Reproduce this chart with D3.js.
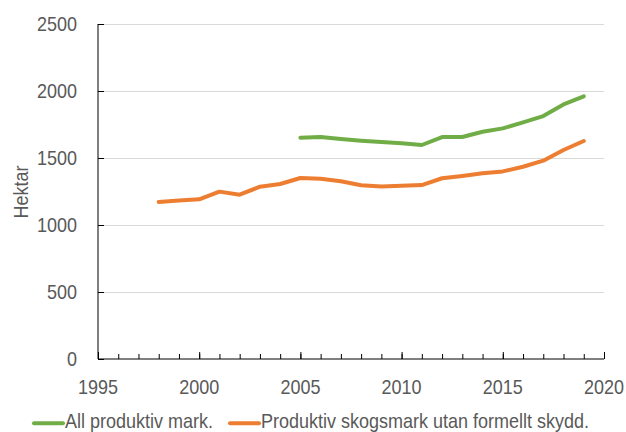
<!DOCTYPE html>
<html><head><meta charset="utf-8">
<script src="https://cdn.jsdelivr.net/npm/d3@7/dist/d3.min.js"></script>
<style>body{margin:0;background:#fff}svg{display:block}</style>
</head><body>
<svg id="c" width="626" height="432"></svg>
<script>
const yearsAll = [2005,2006,2007,2008,2009,2010,2011,2012,2013,2014,2015,2016,2017,2018,2019];
const valuesAll = [1652,1657,1642,1629,1619,1610,1597,1656,1657,1696,1721,1766,1813,1900,1960];
const yearsSkog = [1998,1999,2000,2001,2002,2003,2004,2005,2006,2007,2008,2009,2010,2011,2012,2013,2014,2015,2016,2017,2018,2019];
const valuesSkog = [1172,1182,1192,1249,1226,1286,1306,1351,1345,1326,1296,1288,1293,1298,1349,1366,1386,1400,1435,1480,1560,1627];
const xTicks = [1995,2000,2005,2010,2015,2020];
const yTicks = [0,500,1000,1500,2000,2500];
const seriesNames = ["All produktiv mark.","Produktiv skogsmark utan formellt skydd."];
const colors = ["#70AD47","#ED7D31"];

const svg = d3.select("#c");
const font = "'Liberation Sans', Arial, sans-serif";
const FS = 20, SX = 0.9;
const x = d3.scaleLinear().domain([1995,2020]).range([98,604]);
const y = d3.scaleLinear().domain([0,2500]).range([359,24]);

// gridlines
svg.append("g").selectAll("line").data(yTicks.filter(d=>d>0)).join("line")
  .attr("x1",98).attr("x2",604).attr("y1",d=>y(d)).attr("y2",d=>y(d))
  .attr("stroke","#d9d9d9").attr("stroke-width",1).attr("shape-rendering","crispEdges");

// y axis
const yAxis = svg.append("g").attr("transform","translate(98,0)")
  .call(d3.axisRight(y).tickValues(yTicks).tickSize(6).tickFormat(""));
yAxis.select(".domain").attr("stroke","#000").attr("d","M0,"+y(2500)+"V"+y(0));
yAxis.selectAll(".tick line").attr("stroke","#000");
svg.append("g").selectAll("text").data(yTicks).join("text")
  .attr("transform",d=>`translate(77,${y(d)+7.2}) scale(${SX},1)`).attr("text-anchor","end")
  .attr("font-family",font).attr("font-size",FS).attr("fill","#595959").text(d=>d);

// x axis minor ticks
const minor = d3.range(1995,2021);
const xAxisMinor = svg.append("g").attr("transform","translate(0,359)")
  .call(d3.axisTop(x).tickValues(minor).tickSize(5).tickFormat(""));
xAxisMinor.select(".domain").remove();
xAxisMinor.selectAll(".tick line").attr("stroke","#000");
const xAxis = svg.append("g").attr("transform","translate(0,359)")
  .call(d3.axisTop(x).tickValues(xTicks).tickSize(7).tickFormat(""));
xAxis.select(".domain").attr("stroke","#000").attr("d","M98,0H604");
xAxis.selectAll(".tick line").attr("stroke","#000");
svg.append("g").selectAll("text").data(xTicks).join("text")
  .attr("transform",d=>`translate(${x(d)},393.5) scale(${SX},1)`).attr("text-anchor","middle")
  .attr("font-family",font).attr("font-size",FS).attr("fill","#595959").text(d=>d);

// y title
svg.append("text").attr("transform",`translate(27.5,192) rotate(-90) scale(${SX},1)`)
  .attr("text-anchor","middle").attr("font-family",font).attr("font-size",FS)
  .attr("fill","#595959").text("Hektar");

// lines
const line = d3.line().x(d=>x(d[0])).y(d=>y(d[1]));
const data = [d3.zip(yearsAll,valuesAll), d3.zip(yearsSkog,valuesSkog)];
svg.append("g").selectAll("path").data(data).join("path")
  .attr("d",line).attr("fill","none").attr("stroke",(d,i)=>colors[i])
  .attr("stroke-width",4).attr("stroke-linejoin","round").attr("stroke-linecap","round");

// legend
const legX = [34,230];
const lg = svg.append("g").selectAll("g").data(seriesNames).join("g");
lg.append("line").attr("x1",(d,i)=>legX[i]).attr("x2",(d,i)=>legX[i]+29)
  .attr("y1",423.3).attr("y2",423.3).attr("stroke",(d,i)=>colors[i]).attr("stroke-width",4).attr("stroke-linecap","round");
lg.append("text").attr("transform",(d,i)=>`translate(${legX[i]+31},427.5) scale(${SX},1)`)
  .attr("font-family",font).attr("font-size",FS).attr("fill","#595959").text(d=>d);
</script>
</body></html>
